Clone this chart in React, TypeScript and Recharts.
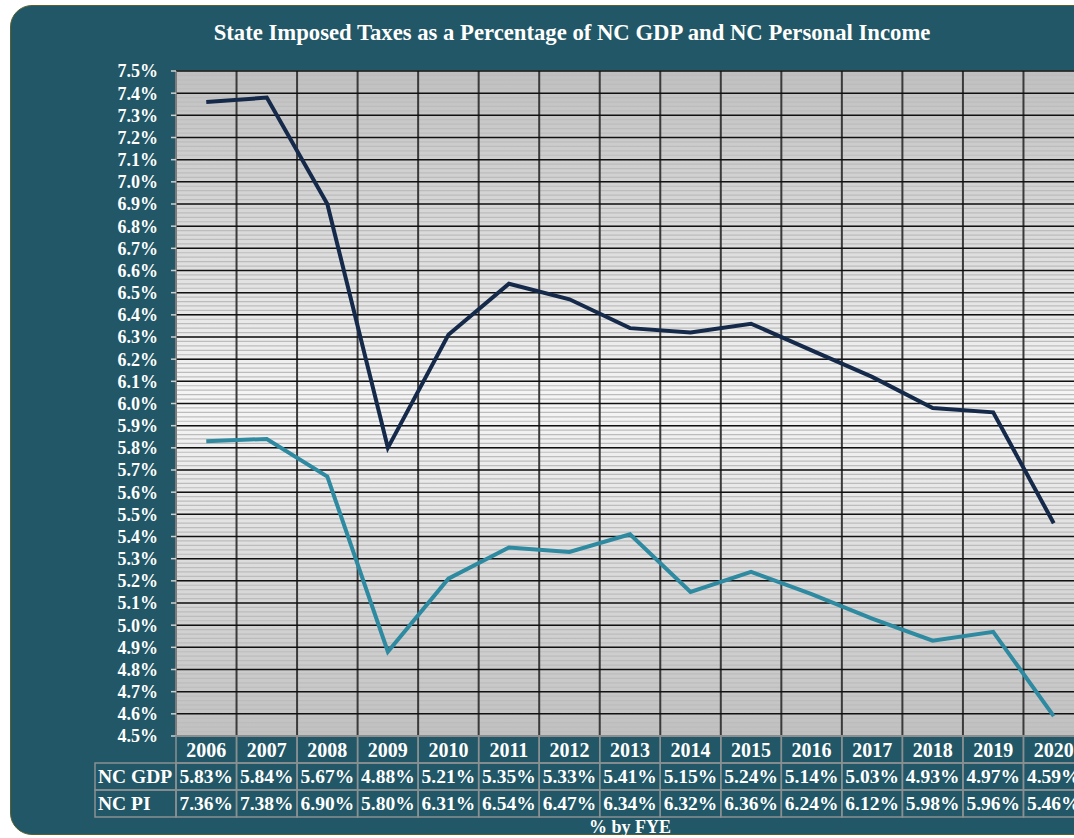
import { LineChart, Line, XAxis, YAxis, CartesianGrid } from "recharts";

// Data (table under the plot doubles as the legend).
const YEARS = [
  "2006", "2007", "2008", "2009", "2010", "2011", "2012", "2013",
  "2014", "2015", "2016", "2017", "2018", "2019", "2020",
];
const NC_GDP = [5.83, 5.84, 5.67, 4.88, 5.21, 5.35, 5.33, 5.41, 5.15, 5.24, 5.14, 5.03, 4.93, 4.97, 4.59];
const NC_PI = [7.36, 7.38, 6.9, 5.8, 6.31, 6.54, 6.47, 6.34, 6.32, 6.36, 6.24, 6.12, 5.98, 5.96, 5.46];
const ROW_LABELS = ["NC GDP", "NC PI"];
const Y_TICKS = [
  4.5, 4.6, 4.7, 4.8, 4.9, 5.0, 5.1, 5.2, 5.3, 5.4, 5.5, 5.6, 5.7, 5.8, 5.9, 6.0,
  6.1, 6.2, 6.3, 6.4, 6.5, 6.6, 6.7, 6.8, 6.9, 7.0, 7.1, 7.2, 7.3, 7.4, 7.5,
];
const MINOR_PER_MAJOR = 5;

const PANEL = "#215766";
const NAVY = "#152a4a";
const TEAL = "#2e8aa0";
const CELL_BORDER = "#8a9092";
const SERIF = '"Liberation Serif", "Times New Roman", serif';

const CHART_W = 1100;
const CHART_H = 838;
const MARGIN = { top: 71, right: 16, bottom: 0, left: 0 };
const Y_AXIS_W = 176;
const X_AXIS_H = 102;
const PLOT_W = CHART_W - MARGIN.left - MARGIN.right - Y_AXIS_W;
const COL_W = PLOT_W / YEARS.length;
const ROW_H = 27;
const LABEL_W = 81;

const data = YEARS.map((year, i) => ({ year, gdp: NC_GDP[i], pi: NC_PI[i] }));

// x-axis tick drawn as one column of the data table
function TableTick(props: any) {
  const { x, y, payload, index } = props;
  const left = x - COL_W / 2;
  const cells = [payload.value, `${NC_GDP[index].toFixed(2)}%`, `${NC_PI[index].toFixed(2)}%`];
  return (
    <g>
      {cells.map((t, r) => (
        <g key={r}>
          <rect
            x={left}
            y={y + r * ROW_H}
            width={COL_W}
            height={ROW_H}
            fill="none"
            stroke={CELL_BORDER}
            strokeWidth={1.5}
          />
          <text
            x={x}
            y={y + r * ROW_H + ROW_H / 2}
            textAnchor="middle"
            dominantBaseline="central"
            fill="#fff"
            fontFamily={SERIF}
            fontWeight="bold"
            fontSize={r === 0 ? 20 : 19.5}
          >
            {t}
          </text>
        </g>
      ))}
      {index === 0 &&
        ROW_LABELS.map((lab, r) => (
          <g key={lab}>
            <rect
              x={left - LABEL_W}
              y={y + (r + 1) * ROW_H}
              width={LABEL_W}
              height={ROW_H}
              fill="none"
              stroke={CELL_BORDER}
              strokeWidth={1.5}
            />
            <text
              x={left - LABEL_W + 3}
              y={y + (r + 1) * ROW_H + ROW_H / 2}
              textAnchor="start"
              dominantBaseline="central"
              fill="#fff"
              fontFamily={SERIF}
              fontWeight="bold"
              fontSize={19.5}
            >
              {lab}
            </text>
          </g>
        ))}
    </g>
  );
}

export default function App() {
  return (
    <div
      style={{
        position: "absolute",
        left: 0,
        top: 0,
        width: 1074,
        height: 838,
        overflow: "hidden",
        background: "#fff",
      }}
    >
      <div
        style={{
          position: "absolute",
          left: 10,
          top: 5,
          width: 1124,
          height: 830,
          background: PANEL,
          border: "1.5px solid #59622f",
          borderRadius: 22,
          boxSizing: "border-box",
        }}
      />
      <div
        style={{
          position: "absolute",
          left: 10,
          top: 20,
          width: 1124,
          textAlign: "center",
          color: "#fff",
          fontFamily: SERIF,
          fontWeight: "bold",
          fontSize: 22.7,
        }}
      >
        State Imposed Taxes as a Percentage of NC GDP and NC Personal Income
      </div>
      <div style={{ position: "absolute", left: 0, top: 0 }}>
        <LineChart width={CHART_W} height={CHART_H} data={data} margin={MARGIN}>
          <defs>
            <linearGradient id="plotBg" x1="0" y1="0" x2="0" y2="1">
              <stop offset="0%" stopColor="#c0c0c0" />
              <stop offset="50%" stopColor="#f6f6f6" />
              <stop offset="100%" stopColor="#c0c0c0" />
            </linearGradient>
          </defs>
          {/* background + minor stripes */}
          <CartesianGrid
            fill="url(#plotBg)"
            fillOpacity={1}
            vertical={false}
            stroke="#bcbcbc"
            strokeWidth={1.2}
            horizontalCoordinatesGenerator={({ offset }: any) =>
              Array.from(
                { length: (Y_TICKS.length - 1) * MINOR_PER_MAJOR + 1 },
                (_, k) => offset.top + (k * offset.height) / ((Y_TICKS.length - 1) * MINOR_PER_MAJOR)
              )
            }
          />
          {/* column boundaries */}
          <CartesianGrid
            horizontal={false}
            stroke="#3a3a3a"
            strokeWidth={2}
            verticalCoordinatesGenerator={({ offset }: any) =>
              YEARS.map((_, i) => offset.left + i * (offset.width / YEARS.length)).concat(
                offset.left + offset.width
              )
            }
          />
          {/* major horizontal lines */}
          <CartesianGrid vertical={false} stroke="#111" strokeWidth={1.5} />
          <XAxis
            dataKey="year"
            height={X_AXIS_H}
            interval={0}
            padding={{ left: COL_W / 2, right: COL_W / 2 }}
            tickLine={false}
            axisLine={{ stroke: "#888", strokeWidth: 2 }}
            tickSize={0}
            tickMargin={0}
            tick={<TableTick />}
          />
          <YAxis
            type="number"
            domain={[4.5, 7.5]}
            ticks={Y_TICKS}
            interval={0}
            width={Y_AXIS_W}
            tickFormatter={(v: number) => `${v.toFixed(1)}%`}
            tick={{ fill: "#fff", fontSize: 18, fontWeight: "bold", fontFamily: SERIF }}
            tickLine={{ stroke: "#d0d0d0", strokeWidth: 1.5 }}
            tickSize={5}
            tickMargin={13}
            axisLine={{ stroke: "#bdbdbd", strokeWidth: 1 }}
          />
          <Line
            dataKey="pi"
            name="NC PI"
            stroke={NAVY}
            strokeWidth={4}
            dot={false}
            isAnimationActive={false}
          />
          <Line
            dataKey="gdp"
            name="NC GDP"
            stroke={TEAL}
            strokeWidth={4}
            dot={false}
            isAnimationActive={false}
          />
        </LineChart>
      </div>
      <div
        style={{
          position: "absolute",
          left: Y_AXIS_W,
          width: PLOT_W,
          top: 817,
          textAlign: "center",
          color: "#fff",
          fontFamily: SERIF,
          fontWeight: "bold",
          fontSize: 18,
        }}
      >
        % by FYE
      </div>
    </div>
  );
}
